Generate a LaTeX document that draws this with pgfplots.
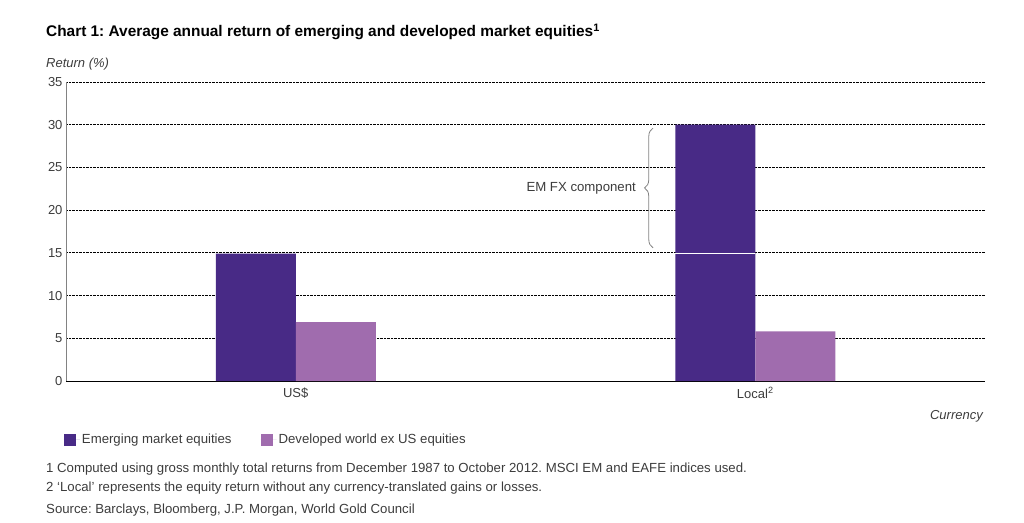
\documentclass[border=0pt]{standalone}
\usepackage{fontspec}
\setmainfont{Liberation Sans}
\usepackage{pgfplots}
\pgfplotsset{compat=1.18}
\usetikzlibrary{decorations.pathreplacing}
\definecolor{em}{RGB}{72,42,134}
\definecolor{dev}{RGB}{160,108,174}
\definecolor{txt}{RGB}{60,60,60}
\definecolor{axgray}{RGB}{130,130,130}
\frenchspacing
\begin{document}
\begin{tikzpicture}[x=1pt,y=1pt]
\useasboundingbox (0,0) rectangle (1024,-522);
\node[anchor=base west, inner sep=0, font=\fontsize{15.4}{17}\selectfont\bfseries, text=black] at (46,-36.5) {Chart 1: Average annual return of emerging and developed market equities\textsuperscript{1}};
\node[anchor=base west, inner sep=0, font=\fontsize{13}{15}\selectfont\itshape, text=txt] at (46,-67) {Return (\%)};
\node[anchor=base east, inner sep=0, font=\fontsize{13}{15}\selectfont\itshape, text=txt] at (983,-419) {Currency};
\node[anchor=base west, inner sep=0, font=\fontsize{13.2}{15}\selectfont, text=txt] at (46,-472) {1 Computed using gross monthly total returns from December 1987 to October 2012. MSCI EM and EAFE indices used.};
\node[anchor=base west, inner sep=0, font=\fontsize{13.2}{15}\selectfont, text=txt] at (46,-491) {2 `Local' represents the equity return without any currency-translated gains or losses.};
\node[anchor=base west, inner sep=0, font=\fontsize{13.2}{15}\selectfont, text=txt] at (46,-513) {Source: Barclays, Bloomberg, J.P. Morgan, World Gold Council};
\begin{axis}[
  at={(66pt,-381pt)}, anchor=south west,
  scale only axis, width=919pt, height=299pt,
  xmin=-0.5, xmax=1.5, ymin=0, ymax=35,
  axis x line*=bottom, axis y line*=left,
  x axis line style={black, line width=0.8pt},
  y axis line style={axgray, line width=1pt},
  xtick={0,1}, xticklabels={US\$, Local\textsuperscript{2}},
  major x tick style={draw=none},
  extra x ticks={0.5,1.5}, extra x tick labels={},
  extra x tick style={major tick length=5pt, tick align=outside, tick style={black, line width=0.8pt}},
  ytick={0,5,...,35},
  ytick style={draw=none},
  ymajorgrids, grid style={densely dotted, black, line width=1pt},
  /pgf/number format/assume math mode=true,
  tick label style={font=\fontsize{13}{15}\selectfont, text=txt},
  xticklabel style={yshift=-3pt},
  legend style={at={(-0.0057,-0.197)}, anchor=west, draw=none, fill=none,
    font=\fontsize{13.2}{15}\selectfont, text=txt, legend columns=2,
    /tikz/every even column/.append style={column sep=27pt}},
  legend cell align=left,
]
\addplot[ybar, bar width=80pt, bar shift=-40pt, fill=em, draw=none,
  legend image code/.code={\fill[em] (0pt,-6pt) rectangle (12pt,6pt); \path (0pt,0pt) -- (16pt,0pt);}]
  coordinates {(0,14.9) (1,30.0)};
\addlegendentry{Emerging market equities}
\addplot[ybar, bar width=80pt, bar shift=40pt, fill=dev, draw=none,
  legend image code/.code={\fill[dev] (0pt,-6pt) rectangle (12pt,6pt); \path (0pt,0pt) -- (16pt,0pt);}]
  coordinates {(0,6.9) (1,5.8)};
\addlegendentry{Developed world ex US equities}
\addplot[white, line width=1.5pt, forget plot] coordinates {(0.8259,14.9) (1.0,14.9)};
\draw[axgray, line width=0.8pt, decorate, decoration={brace, amplitude=8.5pt}]
  (axis cs:0.7775,15.6) -- (axis cs:0.7775,29.6);
\node[anchor=east, inner sep=0, font=\fontsize{13.2}{15}\selectfont, text=txt] at (axis cs:0.7405,22.6) {EM FX component};
\end{axis}
\end{tikzpicture}
\end{document}
